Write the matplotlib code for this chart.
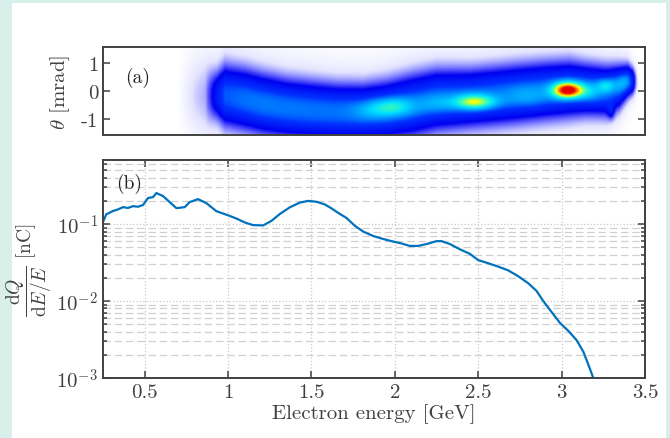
import numpy as np
import matplotlib
matplotlib.use('Agg')
import matplotlib.pyplot as plt
from matplotlib.colors import LinearSegmentedColormap
from matplotlib.patches import Rectangle
from matplotlib.ticker import LogLocator, NullFormatter

plt.rcParams['font.family'] = 'serif'
plt.rcParams['font.serif'] = ['cmr10', 'DejaVu Serif']
plt.rcParams['mathtext.fontset'] = 'cm'
plt.rcParams['axes.formatter.use_mathtext'] = True

# ---- (b) spectrum ----
energy = [0.25, 0.27, 0.31, 0.34, 0.37, 0.40, 0.43, 0.46, 0.49, 0.52, 0.55, 0.57,
          0.61, 0.65, 0.69, 0.74, 0.77, 0.82, 0.87, 0.93, 1.00, 1.05, 1.10, 1.15,
          1.21, 1.26, 1.31, 1.37, 1.43, 1.48, 1.53, 1.58, 1.62, 1.66, 1.71, 1.76,
          1.81, 1.87, 1.93, 1.98, 2.04, 2.09, 2.14, 2.19, 2.25, 2.28, 2.33, 2.39,
          2.45, 2.50, 2.56, 2.62, 2.68, 2.74, 2.80, 2.85, 2.89, 2.94, 2.99, 3.04,
          3.09, 3.13, 3.16, 3.19]
charge = [0.107, 0.134, 0.148, 0.155, 0.166, 0.162, 0.171, 0.168, 0.177, 0.218, 0.224, 0.253,
          0.231, 0.193, 0.161, 0.166, 0.193, 0.211, 0.187, 0.147, 0.130, 0.118, 0.105, 0.097,
          0.096, 0.110, 0.135, 0.165, 0.190, 0.200, 0.195, 0.180, 0.160, 0.140, 0.120, 0.095,
          0.080, 0.070, 0.064, 0.060, 0.056, 0.052, 0.052, 0.055, 0.060, 0.060, 0.055, 0.047,
          0.041, 0.034, 0.031, 0.028, 0.025, 0.021, 0.017, 0.0135, 0.010, 0.0072, 0.0052, 0.0041,
          0.0031, 0.0022, 0.0015, 0.0010]
ytick_vals = [1e-3, 1e-2, 1e-1]
ytick_text = [r'$10^{-3}$', r'$10^{-2}$', r'$10^{-1}$']
xtick_vals = [0.5, 1, 1.5, 2, 2.5, 3, 3.5]
xtick_text = ['0.5', '1', '1.5', '2', '2.5', '3', '3.5']

# ---- (a) angular profile per energy knot ----
band_E      = [0.86, 0.93, 0.98, 1.10, 1.21, 1.35, 1.51, 1.65, 1.81, 1.95, 2.11, 2.25,
               2.45, 2.60, 2.75, 2.90, 3.05, 3.15, 3.27, 3.35, 3.40, 3.43, 3.46]
band_center = [-0.16, -0.16, -0.16, -0.30, -0.46, -0.60, -0.69, -0.74, -0.75, -0.68, -0.50, -0.32,
               -0.26, -0.18, -0.09, 0.00, 0.07, 0.05, 0.00, 0.15, 0.36, 0.36, 0.36]
band_width  = [0.62, 0.62, 0.78, 0.78, 0.77, 0.75, 0.74, 0.72, 0.72, 0.76, 0.80, 0.79,
               0.75, 0.75, 0.75, 0.74, 0.73, 0.68, 0.66, 0.58, 0.46, 0.38, 0.28]
band_peak   = [0.00, 0.28, 0.42, 0.45, 0.46, 0.46, 0.46, 0.46, 0.46, 0.46, 0.46, 0.46,
               0.46, 0.46, 0.46, 0.46, 0.46, 0.46, 0.46, 0.46, 0.42, 0.35, 0.00]
halo_E    = [0.70, 0.80, 0.88, 1.00, 2.00, 3.00, 3.40, 3.48]
halo_peak = [0.00, 0.10, 0.15, 0.12, 0.10, 0.10, 0.08, 0.00]
spot_E     = [1.85, 1.99, 2.25, 2.48, 2.80, 3.04, 3.17, 3.27, 3.30, 3.38]
spot_theta = [-0.70, -0.56, -0.45, -0.39, -0.20, 0.03, -0.05, 0.20, -0.75, 0.30]
spot_amp   = [0.07, 0.18, 0.08, 0.30, 0.08, 0.50, 0.10, 0.17, 0.18, 0.12]
spot_sE    = [0.08, 0.09, 0.08, 0.09, 0.10, 0.065, 0.05, 0.04, 0.015, 0.04]
spot_sT    = [0.25, 0.25, 0.25, 0.20, 0.30, 0.21, 0.25, 0.20, 0.20, 0.25]

cmap_pos = [0.0, 0.08, 0.20, 0.32, 0.50, 0.60, 0.70, 0.78, 0.86, 0.93, 1.0]
cmap_colors = ['#ffffff', '#e4e4ff', '#7070ff', '#0000f0', '#0030ff', '#0090ff',
               '#00e0ff', '#40ffb0', '#ffff00', '#ff8000', '#e80000']
cmap = LinearSegmentedColormap.from_list('wjet', list(zip(cmap_pos, cmap_colors)))

Eg = np.linspace(0.25, 3.5, 500)
Tg = np.linspace(-1.55, 1.55, 160)
EE, TT = np.meshgrid(Eg, Tg)
c = np.interp(Eg, band_E, band_center)
w = np.interp(Eg, band_E, band_width)
a = np.interp(Eg, band_E, band_peak, left=0, right=0)
h = np.interp(Eg, halo_E, halo_peak, left=0, right=0)
d = (TT - c) / w
img = a * np.exp(-0.5 * np.abs(d) ** 2.5) + h * np.exp(-0.5 * (d / 1.6) ** 2)
for e0, t0, am, se, st in zip(spot_E, spot_theta, spot_amp, spot_sE, spot_sT):
    img += am * np.exp(-0.5 * ((EE - e0) / se) ** 2 - 0.5 * ((TT - t0) / st) ** 2)
img = np.clip(img, 0, 1)

ink = '#404040'
fig = plt.figure(figsize=(6.7, 4.39), dpi=100, facecolor='#d9efe9')
fig.patches.append(Rectangle((12 / 670, 0), 654 / 670, 435 / 439,
                             transform=fig.transFigure, facecolor='white',
                             edgecolor='none', zorder=-10))

ax1 = fig.add_axes([103 / 670, 1 - 136 / 439, 542 / 670, 88 / 439])
ax2 = fig.add_axes([103 / 670, 1 - 379 / 439, 542 / 670, 218 / 439])

ax1.imshow(img, extent=[Eg[0], Eg[-1], Tg[0], Tg[-1]], origin='lower',
           aspect='auto', cmap=cmap, vmin=0, vmax=1, interpolation='bilinear')
ax1.set_xlim(0.25, 3.5)
ax1.set_ylim(-1.55, 1.55)
ax1.set_yticks([1, 0, -1])
ax1.set_yticklabels(['1', '0', '-1'])
ax1.set_xticks([])
ax1.set_ylabel(r'$\theta$ [mrad]', fontsize=15, color=ink, labelpad=6)
ax1.text(0.04, 0.6, '(a)', transform=ax1.transAxes, fontsize=14, color='#222222')

ax2.plot(energy, charge, color='#0072BD', lw=1.6)
ax2.set_yscale('log')
ax2.set_xlim(0.25, 3.5)
ax2.set_ylim(1e-3, 0.68)
ax2.set_xticks(xtick_vals)
ax2.set_xticklabels(xtick_text)
ax2.set_yticks(ytick_vals)
ax2.set_yticklabels(ytick_text)
ax2.yaxis.set_minor_locator(LogLocator(base=10, subs=np.arange(2, 10), numticks=10))
ax2.yaxis.set_minor_formatter(NullFormatter())
ax2.grid(True, which='major', ls=':', color='#c8c8c8', lw=0.9)
ax2.grid(True, which='minor', axis='y', ls=(0, (6, 3)), color='#d0d0d0', lw=0.9)
ax2.set_xlabel('Electron energy [GeV]', fontsize=15, color=ink, labelpad=2)
ax2.set_ylabel(r'$\dfrac{\mathrm{d}Q}{\mathrm{d}E/E}$ [nC]', fontsize=14, color=ink, labelpad=2)
ax2.text(0.025, 0.87, '(b)', transform=ax2.transAxes, fontsize=14, color='#222222')

for ax in (ax1, ax2):
    for s in ax.spines.values():
        s.set_color(ink)
        s.set_linewidth(1.4)
    ax.tick_params(which='both', direction='in', right=True, top=True,
                   colors=ink, labelsize=15, width=1.1)
    ax.tick_params(which='major', length=5)
    ax.tick_params(which='minor', length=3)
    ax.set_axisbelow(True)

fig.savefig('out.png', dpi=100, facecolor=fig.get_facecolor())
